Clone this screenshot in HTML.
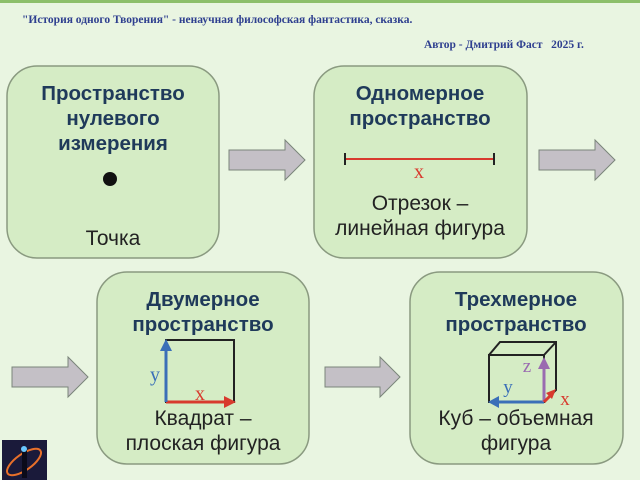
<!DOCTYPE html>
<html><head><meta charset="utf-8"><style>
body{margin:0;width:640px;height:480px;overflow:hidden;background:#e9f5e1;}
svg{display:block}
</style></head><body>
<svg width="640" height="480" viewBox="0 0 640 480" xmlns="http://www.w3.org/2000/svg" font-family="Liberation Sans, DejaVu Sans, sans-serif">
<rect x="0" y="0" width="640" height="480" fill="#e9f5e1"/>
<rect x="0" y="0" width="640" height="3" fill="#8cbf6a"/>
<text x="22" y="23" font-family="Liberation Serif, serif" font-weight="bold" font-size="11.5" fill="#2e3f8f">"История одного Творения" - ненаучная философская фантастика, сказка.</text>
<text x="424" y="48" font-family="Liberation Serif, serif" font-weight="bold" font-size="11.5" fill="#2e3f8f" xml:space="preserve">Автор - Дмитрий Фаст   2025 г.</text>
<g fill="#d5ecc5" stroke="#8a9a80" stroke-width="1.5">
<rect x="7" y="66" width="212" height="192" rx="30"/>
<rect x="314" y="66" width="213" height="192" rx="30"/>
<rect x="97" y="272" width="212" height="192" rx="30"/>
<rect x="410" y="272" width="213" height="192" rx="30"/>
</g>
<g fill="#c4c0c6" stroke="#7a857a" stroke-width="1">
<path d="M229 150 H285 V140 L305 160 L285 180 V170 H229 Z"/>
<path d="M539 150 H595 V140 L615 160 L595 180 V170 H539 Z"/>
<path d="M12 367 H68 V357 L88 377 L68 397 V387 H12 Z"/>
<path d="M325 367 H380 V357 L400 377 L380 397 V387 H325 Z"/>
</g>
<g font-weight="bold" font-size="20.5" fill="#1f3a5a" text-anchor="middle">
<text x="113" y="100">Пространство</text>
<text x="113" y="125">нулевого</text>
<text x="113" y="150">измерения</text>
<text x="420" y="100">Одномерное</text>
<text x="420" y="125">пространство</text>
<text x="203" y="306">Двумерное</text>
<text x="203" y="331">пространство</text>
<text x="516" y="306">Трехмерное</text>
<text x="516" y="331">пространство</text>
</g>
<g font-size="21" fill="#222" text-anchor="middle">
<text x="113" y="245">Точка</text>
<text x="420" y="210">Отрезок –</text>
<text x="420" y="235">линейная фигура</text>
<text x="203" y="425">Квадрат –</text>
<text x="203" y="450">плоская фигура</text>
<text x="516" y="425">Куб – объемная</text>
<text x="516" y="450">фигура</text>
</g>
<circle cx="110" cy="179" r="7" fill="#111"/>
<line x1="345" y1="159" x2="494" y2="159" stroke="#d83a2e" stroke-width="2"/>
<line x1="345" y1="153" x2="345" y2="165" stroke="#222" stroke-width="2"/>
<line x1="494" y1="153" x2="494" y2="165" stroke="#222" stroke-width="2"/>
<text x="419" y="178" font-family="Liberation Serif, serif" font-size="20" fill="#d83a2e" text-anchor="middle">x</text>
<rect x="166" y="340" width="68" height="62" fill="none" stroke="#222" stroke-width="2"/>
<line x1="166" y1="402" x2="228" y2="402" stroke="#d83a2e" stroke-width="3"/>
<path d="M236 402 L224 396 L224 408 Z" fill="#d83a2e"/>
<line x1="166" y1="402" x2="166" y2="348" stroke="#3a6fb8" stroke-width="3"/>
<path d="M166 339 L160 351 L172 351 Z" fill="#3a6fb8"/>
<text x="200" y="400" font-family="Liberation Serif, serif" font-size="20" fill="#d83a2e" text-anchor="middle">x</text>
<text x="155" y="381" font-family="Liberation Serif, serif" font-size="20" fill="#3a6fb8" text-anchor="middle">y</text>
<g fill="none" stroke="#222" stroke-width="2">
<rect x="489" y="355" width="55" height="47"/>
<path d="M489 355 L500 342 L556 342 L556 390 L544 402 M544 355 L556 342"/>
</g>
<line x1="544" y1="402" x2="496" y2="402" stroke="#3a6fb8" stroke-width="3"/>
<path d="M488 402 L499 396 L499 408 Z" fill="#3a6fb8"/>
<line x1="544" y1="402" x2="544" y2="366" stroke="#9a6bb0" stroke-width="3"/>
<path d="M544 357 L538 369 L550 369 Z" fill="#9a6bb0"/>
<line x1="544" y1="402" x2="552" y2="394" stroke="#d83a2e" stroke-width="3"/>
<path d="M556 389 L546 393 L552 399 Z" fill="#d83a2e"/>
<text x="527" y="372" font-family="Liberation Serif, serif" font-size="19" fill="#9a6bb0" text-anchor="middle">z</text>
<text x="508" y="393" font-family="Liberation Serif, serif" font-size="19" fill="#3a6fb8" text-anchor="middle">y</text>
<text x="565" y="405" font-family="Liberation Serif, serif" font-size="19" fill="#d83a2e" text-anchor="middle">x</text>
<rect x="2" y="440" width="45" height="40" fill="#1a1a3a"/>
<ellipse cx="24" cy="462" rx="20" ry="8" fill="none" stroke="#e8702a" stroke-width="2" transform="rotate(-35 24 462)"/>
<rect x="22" y="450" width="5" height="28" fill="#0b0b1a"/>
<circle cx="24" cy="449" r="3" fill="#6ac8ff"/>
</svg>
</body></html>
